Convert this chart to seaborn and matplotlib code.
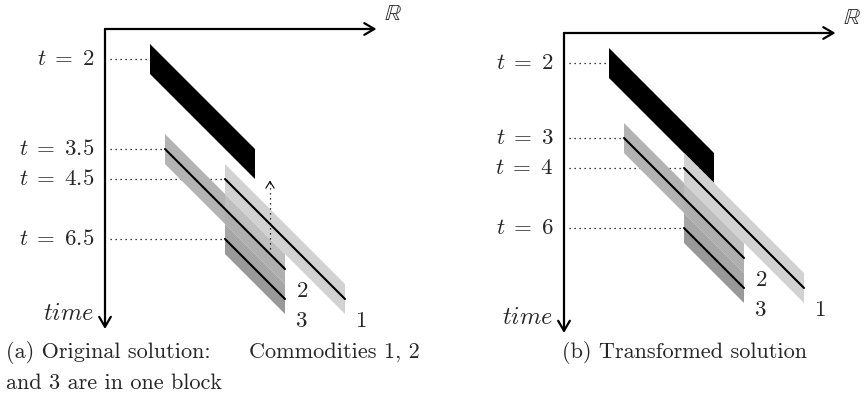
import numpy as np
import pandas as pd
import matplotlib
matplotlib.use("Agg")
import matplotlib.pyplot as plt
import seaborn as sns

# -----------------------------
# Diagram data (schematic units: 1 unit = one band height)
# -----------------------------
# labels on the time axis and the row where each one sits
left_t_labels = ["2", "3.5", "4.5", "6.5"]
left_t_rows = [1, 4, 5, 7]
right_t_labels = ["2", "3", "4", "6"]
right_t_rows = [1, 3.5, 4.5, 6.5]

# where each dotted guide stops on the R axis
left_guide_to = [1.5, 2, 4, 4]
right_guide_to = [1.5, 2, 5, 4]

# blocks: black block, then commodities 2, 1, 3
block_names = ["black", "2", "1", "3"]
block_start = [1.5, 2, 4, 4]
block_end = [5, 6, 8, 6]
left_block_row = [1, 4, 5, 7]
right_block_row = [1, 3.5, 4.5, 6.5]

# dotted arrow in the original solution (x, from row, to row)
arrow_x = 5.5
arrow_from = 7.35
arrow_to = 5.05

sns.set_theme(style="white")
plt.rcParams["mathtext.fontset"] = "cm"
plt.rcParams["font.family"] = ["cmr10", "DejaVu Serif"]
plt.rcParams["axes.formatter.use_mathtext"] = True

W, H = 865, 398
UNIT = 30.0
fig = plt.figure(figsize=(W / 100, H / 100), dpi=100)


def make_axes(px0, px1, ox, oy, bottom_px=340):
    ax = fig.add_axes([px0 / W, 1 - bottom_px / H, (px1 - px0) / W, bottom_px / H])
    ax.set_xlim((px0 - ox) / UNIT, (px1 - ox) / UNIT)
    ax.set_ylim((bottom_px - oy) / UNIT, -oy / UNIT)
    ax.set_axis_off()
    return ax


def band(ax, x0, x1, y0, h0, h1, color):
    d = x1 - x0
    xs = [x0, x1, x1, x0]
    ys = [y0 + h0, y0 + h0 + d, y0 + h1 + d, y0 + h1]
    ax.fill(xs, ys, color=color, lw=0, zorder=2)


def draw_panel(ax, t_labels, t_rows, guide_to, rows):
    fs = 16.5
    # axes arrows
    ax.annotate("", xy=(9.05, 0), xytext=(0, 0),
                arrowprops=dict(arrowstyle="->,head_length=0.6,head_width=0.35",
                                lw=1.6, color="black", shrinkA=0, shrinkB=0))
    ax.annotate("", xy=(0, 10.0), xytext=(0, 0),
                arrowprops=dict(arrowstyle="->,head_length=0.6,head_width=0.35",
                                lw=1.6, color="black", shrinkA=0, shrinkB=0))
    ax.text(9.6, -0.5, r"$\mathbb{R}$", fontsize=fs, ha="center", va="center")
    ax.text(-0.35, 9.5, r"$time$", fontsize=17.5, ha="right", va="center")

    # time labels and dotted guides
    for lab, r, g in zip(t_labels, t_rows, guide_to):
        ax.text(-0.35, r, r"$t\;=\;%s$" % lab, fontsize=fs, ha="right", va="center")
        ax.plot([0.17, g], [r, r], color="black", lw=0.9,
                linestyle=(0, (1, 3)), zorder=1)

    # blocks
    x0, x1, y0 = block_start[0], block_end[0], rows[0]
    band(ax, x0, x1, y0, -0.5, 0.5, "black")

    # commodity 2: plain part before the overlap, split shades after it
    x0, x1, y0 = block_start[1], block_end[1], rows[1]
    band(ax, x0, block_start[2], y0, -0.5, 0.5, "#b3b3b3")
    yb = y0 + (block_start[2] - x0)
    band(ax, block_start[2], x1, yb, -0.5, 0.0, "#bfbfbf")
    band(ax, block_start[2], x1, yb, 0.0, 0.5, "#afafaf")

    # commodity 1
    x0, x1, y0 = block_start[2], block_end[2], rows[2]
    band(ax, x0, x1, y0, -0.5, 0.5, "#d2d2d2")

    # commodity 3
    x0, x1, y0 = block_start[3], block_end[3], rows[3]
    band(ax, x0, x1, y0, -0.5, 0.0, "#a6a6a6")
    band(ax, x0, x1, y0, 0.0, 0.5, "#999999")

    # centre lines of the commodities
    recs = []
    for name, s, e, r in zip(block_names, block_start, block_end, rows):
        if name == "black":
            continue
        recs.append({"c": name, "x": s, "y": r})
        recs.append({"c": name, "x": e, "y": r + (e - s)})
        ax.text(e + 0.57, r + (e - s) + 0.73, name, fontsize=fs,
                ha="center", va="center", zorder=4)
    df = pd.DataFrame(recs)
    sns.lineplot(data=df, x="x", y="y", units="c", estimator=None, sort=False,
                 color="black", lw=1.5, ax=ax, legend=False, zorder=3)
    ax.set_xlabel("")
    ax.set_ylabel("")
    ax.set_axis_off()


ax_l = make_axes(0, 432, 105, 29)
draw_panel(ax_l, left_t_labels, left_t_rows, left_guide_to, left_block_row)
ax_l.plot([arrow_x, arrow_x], [arrow_from, arrow_to + 0.1], color="black",
          lw=0.9, linestyle=(0, (1, 3)), zorder=3)
ax_l.annotate("", xy=(arrow_x, arrow_to), xytext=(arrow_x, arrow_to + 0.08),
              arrowprops=dict(arrowstyle="->,head_length=0.4,head_width=0.25",
                              lw=0.8, color="black", shrinkA=0, shrinkB=0))

ax_r = make_axes(432, 865, 564, 33)
draw_panel(ax_r, right_t_labels, right_t_rows, right_guide_to, right_block_row)

# captions
cfs = 16
fig.text(6 / W, 1 - 352 / H, "(a) Original solution:", fontsize=cfs,
         ha="left", va="center")
fig.text(420 / W, 1 - 352 / H, "Commodities 1, 2", fontsize=cfs,
         ha="right", va="center")
fig.text(6 / W, 1 - 383 / H, "and 3 are in one block", fontsize=cfs,
         ha="left", va="center")
fig.text(685 / W, 1 - 352 / H, "(b) Transformed solution", fontsize=cfs,
         ha="center", va="center")

fig.savefig("out.png", dpi=100)
